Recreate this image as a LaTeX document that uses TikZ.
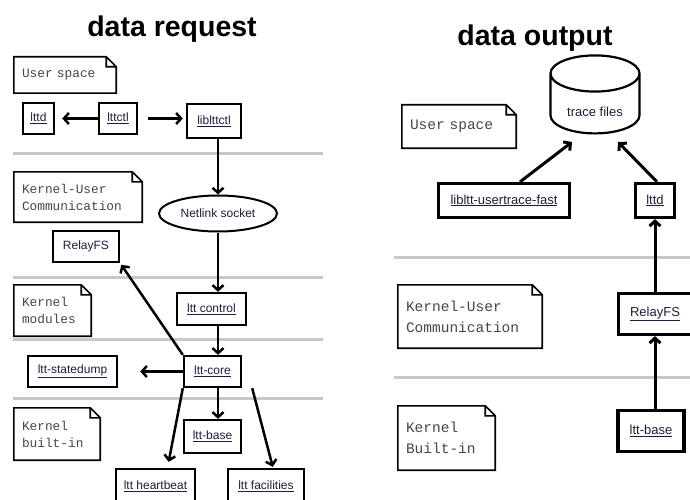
\documentclass[tikz,border=0pt]{standalone}
\usepackage{fontspec}
\setmainfont{Liberation Sans}
\newfontfamily\monofam{Liberation Mono}
\usetikzlibrary{arrows.meta, positioning, shapes.geometric}

\definecolor{rulegray}{RGB}{200,200,200}
\definecolor{labelink}{RGB}{30,30,60}
\definecolor{noteink}{RGB}{70,70,70}

\begin{document}
\begin{tikzpicture}[
x=1pt, y=-1pt,
box/.style={
draw,
line width=2.4pt,
inner sep=0pt,
text=labelink,
font=\fontsize{12}{14}\selectfont
},
bigbox/.style={box, line width=3.2pt, font=\fontsize{13}{15}\selectfont},
note/.style={
inner xsep=8pt,
inner ysep=0pt,
align=left,
text=noteink,
font=\monofam\fontsize{12.8}{17}\selectfont
},
bignote/.style={note, font=\monofam\fontsize{14.5}{21}\selectfont},
divider/.style={rulegray, line width=3pt},
flow/.style={line width=2.5pt, -{Straight Barb[length=5pt,width=11pt]}},
bigflow/.style={flow, line width=3pt},
title/.style={anchor=base, font=\bfseries\fontsize{28.5}{30}\selectfont}
]

\useasboundingbox (0,0) rectangle (690,500);
\fill[white] (0,0) rectangle (690,500);
\clip (0,0) rectangle (690,500);

\node[title] (reqtitle) at (172,37) {data request};
\node[title] (outtitle) at (535,46) {data output};

% layer separators
\foreach \yy in {153,277,339,398}
  \draw[divider] (13,\yy) -- (323,\yy);
\foreach \yy in {257,377}
  \draw[divider] (394,\yy) -- (690,\yy);

% layer notes
\node[note, text width=86pt, minimum height=36pt] (userL) at (65,75) {User space};
\node[note, text width=112pt, minimum height=50pt] (kuserL) at (78,197) {Kernel-User\\Communication};
\node[note, text width=61pt, minimum height=51pt] (kmodL) at (52.5,310.5) {Kernel\\modules};
\node[note, text width=70pt, minimum height=52pt] (kbinL) at (57,434) {Kernel\\built-in};
\node[bignote, text width=98pt, minimum height=43pt] (userR) at (459,126.5) {User space};
\node[bignote, text width=128pt, minimum height=63pt] (kuserR) at (470,316.5) {Kernel-User\\Communication};
\node[bignote, text width=81pt, minimum height=64pt] (kbinR) at (446.5,438) {Kernel\\Built-in};

\foreach \n in {userL,kuserL,kmodL,kbinL,userR,kuserR,kbinR}
  \draw[line width=1.6pt] (\n.north west) -- ([xshift=-10pt]\n.north east)
    -- ([yshift=-10pt]\n.north east) -- (\n.south east) -- (\n.south west) -- cycle
    ([xshift=-10pt]\n.north east) |- ([yshift=-10pt]\n.north east);

% request side
\node[box, minimum width=31pt, minimum height=31pt] (lttdL) at (38.5,118.5) {\underline{lttd}};
\node[box, minimum width=38pt, minimum height=31pt] (lttctl) at (118,118.5) {\underline{lttctl}};
\node[box, minimum width=54pt, minimum height=34pt] (liblttctl) at (214,121) {\underline{liblttctl}};
\node[draw, ellipse, line width=2pt, minimum width=118pt, minimum height=36pt, inner sep=0pt,
  text=labelink, font=\fontsize{12}{14}\selectfont] (netlink) at (218,213.5) {Netlink socket};
\node[box, minimum width=66pt, minimum height=31pt] (relayL) at (86,246.5) {RelayFS};
\node[box, minimum width=69pt, minimum height=32pt] (lttctrl) at (211.5,309) {\underline{ltt control}};
\node[box, minimum width=57pt, minimum height=31pt] (lttcore) at (212.5,371.5) {\underline{ltt-core}};
\node[box, minimum width=89pt, minimum height=31pt] (statedump) at (72.5,371.5) {\underline{ltt-statedump}};
\node[box, minimum width=57pt, minimum height=33pt] (ltbaseL) at (212.5,436.5) {\underline{ltt-base}};
\node[box, minimum width=79pt, minimum height=34pt] (heartbeat) at (155.5,486) {\underline{ltt heartbeat}};
\node[box, minimum width=76pt, minimum height=34pt] (facilities) at (266,486) {\underline{ltt facilities}};

\draw[flow, shorten >=7pt] (lttctl.west) -- (lttdL.east);
\draw[flow, shorten <=10pt, shorten >=3pt] (lttctl.east) -- (lttctl.east -| liblttctl.west);
\draw[flow] (liblttctl.south -| netlink.north) -- (netlink.north);
\draw[flow] (netlink.south) -- (netlink.south |- lttctrl.north);
\draw[flow] (lttctrl.south -| netlink.south) -- (netlink.south |- lttcore.north);
\draw[flow, shorten >=2pt] (lttcore.north west) -- (relayL.south east);
\draw[flow, shorten >=22pt] (lttcore.west) -- (statedump.east);
\draw[flow] (lttcore.south -| netlink.south) -- (netlink.south |- ltbaseL.north);
\draw[flow, shorten >=6pt] (lttcore.south west) -- ([xshift=12pt]heartbeat.north);
\draw[flow, shorten >=1pt] ([xshift=10pt]lttcore.south east) -- ([xshift=7pt]facilities.north);

% output side
\node[draw, cylinder, shape border rotate=90, aspect=0.65, line width=2.2pt,
  minimum width=89pt, minimum height=78pt, inner sep=0pt,
  text=labelink, font=\fontsize{13}{15}\selectfont] (traces) at (595,104)
  {\raisebox{-13pt}[0pt][0pt]{trace files}};
\node[bigbox, minimum width=131pt, minimum height=34pt] (usertrace) at (504,200.5) {\underline{libltt-usertrace-fast}};
\node[bigbox, minimum width=39pt, minimum height=34pt] (lttdR) at (655,200.5) {\underline{lttd}};
\node[bigbox, minimum width=73pt, minimum height=41pt] (relayR) at (655,314) {\underline{RelayFS}};
\node[bigbox, minimum width=66pt, minimum height=41pt] (ltbaseR) at (651,431) {\underline{ltt-base}};

\draw[bigflow] ([xshift=16pt]usertrace.north) -- ([shift={(-23,38)}]traces.center);
\draw[bigflow] ([xshift=2pt]lttdR.north) -- ([shift={(23,38)}]traces.center);
\draw[bigflow] (relayR.north) -- (lttdR.south);
\draw[bigflow] (ltbaseR.north -| relayR.south) -- (relayR.south);

\end{tikzpicture}
\end{document}
